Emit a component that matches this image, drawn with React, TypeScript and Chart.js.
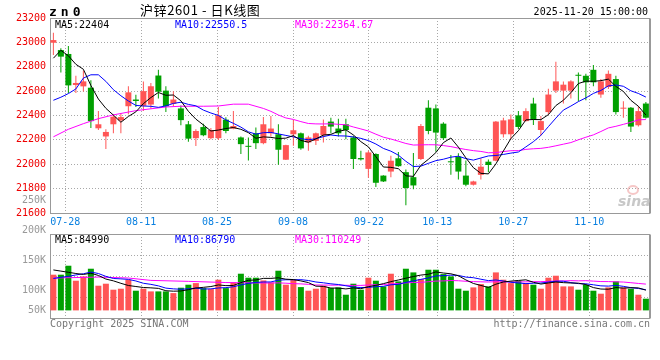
import { useEffect, useRef } from "react";
import { Chart, registerables } from "chart.js";

Chart.register(...registerables);

const MONO = "'DejaVu Sans Mono', monospace";
const RED = "#ff5555";
const GREEN = "#00a000";
const GRID = "#a8a8a8";

const symbol = "zn0";
const title = "沪锌2601 - 日K线图";
const timestamp = "2025-11-20 15:00:00";

const dates = [
  "07-24", "07-25", "07-28", "07-29", "07-30", "07-31",
  "08-01", "08-04", "08-05", "08-06", "08-07", "08-08", "08-11", "08-12", "08-13", "08-14", "08-15",
  "08-18", "08-19", "08-20", "08-21", "08-22", "08-25", "08-26", "08-27", "08-28", "08-29",
  "09-01", "09-02", "09-03", "09-04", "09-05", "09-08", "09-09", "09-10", "09-11", "09-12",
  "09-15", "09-16", "09-17", "09-18", "09-19", "09-22", "09-23", "09-24", "09-25", "09-26", "09-29", "09-30",
  "10-09", "10-10", "10-13", "10-14", "10-15", "10-16", "10-17", "10-20", "10-21", "10-22", "10-23", "10-24",
  "10-27", "10-28", "10-29", "10-30", "10-31",
  "11-03", "11-04", "11-05", "11-06", "11-07", "11-10", "11-11", "11-12", "11-13", "11-14",
  "11-17", "11-18", "11-19", "11-20",
];

const labelDates = ["07-28", "08-11", "08-25", "09-08", "09-22", "10-13", "10-27", "11-10"];

const opens = [
  22997, 22937, 22905, 22650, 22639, 22628, 22295, 22228, 22328, 22360,
  22476, 22531, 22480, 22490, 22728, 22604, 22496, 22458, 22328, 22214,
  22305, 22214, 22214, 22366, 22293, 22220, 22151, 22254, 22173, 22254,
  22246, 22037, 22246, 22254, 22179, 22192, 22238, 22350, 22293, 22328,
  22220, 22051, 21962, 22084, 21907, 21940, 22049, 21935, 21894, 22043,
  22464, 22458, 22333, 22024, 22062, 21907, 21832, 21913, 22021, 22029,
  22246, 22246, 22401, 22354, 22498, 22281, 22428, 22604, 22604, 22604,
  22734, 22726, 22775, 22572, 22634, 22699, 22456, 22464, 22320, 22498,
];
const closes = [
  23019, 22883, 22647, 22667, 22680, 22354, 22328, 22265, 22390, 22387,
  22590, 22519, 22600, 22640, 22595, 22475, 22531, 22362, 22210, 22273,
  22238, 22281, 22401, 22273, 22314, 22165, 22143, 22173, 22328, 22293,
  22119, 22157, 22279, 22130, 22220, 22254, 22314, 22309, 22254, 22281,
  22043, 22040, 22097, 21848, 21859, 22029, 21984, 21805, 21826, 22314,
  22273, 22260, 22214, 22016, 21940, 21832, 21859, 21980, 21994, 22350,
  22360, 22368, 22306, 22436, 22366, 22354, 22572, 22680, 22653, 22680,
  22726, 22672, 22672, 22680, 22742, 22428, 22464, 22309, 22436, 22382,
];
const highs = [
  23078, 22951, 22970, 22726, 22769, 22690, 22436, 22287, 22410, 22417,
  22640, 22570, 22680, 22667, 22775, 22640, 22600, 22482, 22355, 22287,
  22333, 22297, 22470, 22385, 22436, 22228, 22220, 22301, 22387, 22395,
  22328, 22160, 22366, 22260, 22233, 22260, 22368, 22382, 22374, 22374,
  22233, 22110, 22110, 22090, 21910, 22070, 22100, 21956, 22092, 22330,
  22525, 22490, 22345, 22076, 22090, 22030, 21865, 22049, 22040, 22355,
  22382, 22409, 22436, 22460, 22545, 22395, 22620, 22842, 22680, 22690,
  22753, 22742, 22815, 22700, 22769, 22726, 22517, 22470, 22476, 22510,
];
const lows = [
  22897, 22753, 22585, 22585, 22596, 22298, 22281, 22125, 22254, 22254,
  22410, 22470, 22436, 22456, 22540, 22428, 22476, 22320, 22184, 22150,
  22230, 22206, 22200, 22254, 22287, 22084, 22030, 22125, 22165, 22228,
  21995, 22035, 22151, 22120, 22110, 22157, 22179, 22254, 22228, 22206,
  21962, 22030, 21889, 21813, 21855, 21894, 21980, 21663, 21794, 22035,
  22246, 22102, 22200, 21913, 21875, 21820, 21826, 21875, 21935, 22025,
  22220, 22206, 22290, 22350, 22322, 22233, 22410, 22585, 22498, 22540,
  22517, 22525, 22639, 22545, 22618, 22409, 22382, 22265, 22309, 22375,
];
const volumes = [
  150000, 150000, 187700, 124700, 142800, 175100, 103700, 112100, 86900, 91100,
  128900, 82700, 91100, 79800, 79800, 79800, 72700, 95300, 107900, 114700,
  93700, 89500, 128900, 93700, 117600, 154100, 137300, 137300, 126000, 117600,
  166700, 107900, 128900, 97900, 82700, 91100, 103700, 93700, 96600, 65900,
  112100, 86900, 137300, 124700, 100800, 154100, 121800, 175100, 159600, 131500,
  170900, 170900, 152500, 142800, 91100, 82700, 96600, 110500, 100800, 159600,
  128900, 114700, 124700, 114700, 107900, 91100, 137300, 145700, 100800, 100800,
  86900, 107900, 82700, 70100, 96600, 121800, 96600, 91100, 65900, 49100,
];

// moving-average values before a full window is available: [index, value]
const ma5Head = [[0, 22870], [1, 22935], [2, 22890], [3, 22820]];
const ma10Head = [[0, 22525], [1, 22550], [2, 22580], [3, 22618], [4, 22707], [5, 22734], [6, 22734], [7, 22680], [8, 22612]];
const ma30Head = [[0, 22225], [2, 22287], [4, 22333], [6, 22374], [8, 22405], [11, 22440], [13, 22455], [15, 22470], [17, 22476], [20, 22476], [22, 22478], [24, 22493], [26, 22493], [28, 22458]];
const volMa5Head = [[0, 170000], [1, 165000], [2, 160000], [3, 155000]];
const volMa10Head = [[0, 134000], [1, 139000], [2, 143000], [3, 149000], [4, 154000], [5, 161000], [6, 155000], [7, 143000], [8, 134000]];
const volMa30Head = [[0, 136000], [6, 140000], [10, 136000], [13, 126000], [18, 122000], [23, 117000], [28, 115000]];

const priceLegend = ["MA5:22404", "MA10:22550.5", "MA30:22364.67"];
const volLegend = ["MA5:84990", "MA10:86790", "MA30:110249"];
const legendColors = ["#000000", "#0000ff", "#ff00ff"];
const volAxisLabels = ["250K", "200K", "150K", "100K", "50K"];

const priceMin = 21600;
const priceMax = 23200;
const priceStep = 200;
const volMin = -32000;
const volMax = 321000;

function movingAverage(values: number[], n: number, head: number[][]) {
  const pts = head.map(([x, y]) => ({ x, y }));
  for (let i = n - 1; i < values.length; i++) {
    let s = 0;
    for (let j = i - n + 1; j <= i; j++) s += values[j];
    pts.push({ x: i, y: s / n });
  }
  return pts;
}

const candleColor = (i: number) => (closes[i] >= opens[i] ? RED : GREEN);
const labelIdx = labelDates.map((d) => dates.indexOf(d));

const candleAxis = {
  type: "linear",
  display: false,
  offset: false,
  grid: { offset: false },
  min: -0.45,
  max: dates.length - 0.45,
};

function dateAxis(showLabels: boolean) {
  return {
    type: "linear",
    position: "bottom",
    offset: false,
    min: 0,
    max: dates.length - 1,
    afterBuildTicks: (s: any) => {
      s.ticks = labelIdx.map((v) => ({ value: v }));
    },
    afterFit: (s: any) => {
      s.height = showLabels ? 16 : 0;
    },
    grid: { color: GRID, drawTicks: false, offset: false },
    border: { display: false, dash: [1, 2] },
    ticks: {
      display: showLabels,
      color: "#0a80e0",
      font: { family: MONO, size: 10 },
      padding: 3,
      maxRotation: 0,
      autoSkip: false,
      callback: (v: any) => dates[v] ?? "",
    },
  };
}

const framePlugin = {
  id: "frame",
  beforeDatasetsDraw(chart: any) {
    const { ctx, chartArea: a } = chart;
    ctx.save();
    ctx.strokeStyle = "#999999";
    ctx.lineWidth = 1;
    const l = Math.round(a.left) + 0.5;
    const t = Math.round(a.top) + 0.5;
    const r = Math.round(a.right) - 0.5;
    const b = Math.round(a.bottom) + 0.5;
    ctx.strokeRect(l, t, r - l, b - t);
    ctx.beginPath();
    ctx.moveTo(r + 1, t);
    ctx.lineTo(r + 1, b);
    ctx.stroke();
    ctx.restore();
  },
};

const mainTextPlugin = {
  id: "mainText",
  afterDraw(chart: any) {
    const { ctx, chartArea: a } = chart;
    ctx.save();
    ctx.textBaseline = "alphabetic";
    ctx.fillStyle = "#000";
    ctx.font = `bold 13px ${MONO}`;
    ctx.letterSpacing = "4px";
    ctx.fillText(symbol, a.left - 1, 16);
    ctx.letterSpacing = "0.6px";
    ctx.font = "13px 'Noto Sans CJK SC', sans-serif";
    ctx.fillText(title, 140, 15);
    ctx.letterSpacing = "0px";
    ctx.font = `10px ${MONO}`;
    ctx.textAlign = "right";
    ctx.fillText(timestamp, a.right - 2, 15);
    ctx.textAlign = "left";
    priceLegend.forEach((t, k) => {
      ctx.fillStyle = legendColors[k];
      ctx.fillText(t, a.left + 5 + 120 * k, a.top + 9.5);
    });
    // sina watermark
    ctx.strokeStyle = "rgba(235,130,130,0.45)";
    ctx.lineWidth = 2;
    ctx.beginPath();
    ctx.ellipse(a.right - 17, a.bottom - 23, 5, 4, 0, 0, Math.PI * 2);
    ctx.stroke();
    ctx.fillStyle = "#c8c8c8";
    ctx.font = "italic bold 14px 'DejaVu Sans', sans-serif";
    ctx.fillText("sina", a.right - 32, a.bottom - 7);
    ctx.restore();
  },
};

const volTextPlugin = {
  id: "volText",
  afterDraw(chart: any) {
    const { ctx, chartArea: a } = chart;
    ctx.save();
    ctx.font = `10px ${MONO}`;
    ctx.textBaseline = "alphabetic";
    volLegend.forEach((t, k) => {
      ctx.fillStyle = legendColors[k];
      ctx.fillText(t, a.left + 5 + 120 * k, a.top + 8.5);
    });
    ctx.fillStyle = "#999999";
    ctx.textAlign = "right";
    ctx.textBaseline = "middle";
    volAxisLabels.forEach((t, k) => {
      const y = k < volAxisLabels.length - 1 ? a.top - 33.5 + 30 * k : a.bottom - 8;
      ctx.fillText(t, a.left - 4, y);
    });
    ctx.textBaseline = "alphabetic";
    ctx.fillStyle = "#777777";
    ctx.textAlign = "left";
    ctx.fillText("Copyright 2025 SINA.COM", a.left, a.bottom + 8.5);
    ctx.textAlign = "right";
    ctx.fillText("http://finance.sina.com.cn", a.right, a.bottom + 8.5);
    ctx.restore();
  },
};

function lineSet(label: string, data: any[], color: string) {
  return {
    type: "line",
    label,
    data,
    borderColor: color,
    borderWidth: 1,
    pointRadius: 0,
    tension: 0,
    fill: false,
    xAxisID: "xc",
    yAxisID: "y",
    order: 1,
  };
}

function mainConfig(): any {
  return {
    type: "bar",
    data: {
      datasets: [
        lineSet("MA5", movingAverage(closes, 5, ma5Head), legendColors[0]),
        lineSet("MA10", movingAverage(closes, 10, ma10Head), legendColors[1]),
        lineSet("MA30", movingAverage(closes, 30, ma30Head), legendColors[2]),
        {
          type: "bar",
          label: "body",
          data: dates.map((_, i) => ({ x: i, y: [opens[i], closes[i]] })),
          backgroundColor: (c: any) => candleColor(c.dataIndex),
          barThickness: 6,
          minBarLength: 1,
          grouped: false,
          inflateAmount: 0,
          borderWidth: 0,
          xAxisID: "xc",
          yAxisID: "y",
          order: 2,
        },
        {
          type: "bar",
          label: "wick",
          data: dates.map((_, i) => ({ x: i, y: [lows[i], highs[i]] })),
          backgroundColor: (c: any) => candleColor(c.dataIndex),
          barThickness: 1,
          minBarLength: 1,
          grouped: false,
          inflateAmount: 0,
          borderWidth: 0,
          xAxisID: "xc",
          yAxisID: "y",
          order: 3,
        },
      ],
    },
    options: {
      animation: false,
      responsive: false,
      devicePixelRatio: 1,
      events: [],
      layout: { padding: { top: 18, right: 10, bottom: 131, left: 0 } },
      plugins: { legend: { display: false }, tooltip: { enabled: false } },
      scales: {
        xc: candleAxis,
        x: dateAxis(true),
        y: {
          type: "linear",
          position: "left",
          min: priceMin,
          max: priceMax,
          afterFit: (s: any) => {
            s.width = 50;
          },
          grid: { color: GRID, drawTicks: false },
          border: { display: false, dash: [1, 2] },
          ticks: {
            stepSize: priceStep,
            color: "#ee0000",
            font: { family: MONO, size: 10 },
            padding: 4,
            callback: (v: any) => String(v),
          },
        },
      },
    },
    plugins: [framePlugin, mainTextPlugin],
  };
}

function volConfig(): any {
  return {
    type: "bar",
    data: {
      datasets: [
        lineSet("VMA5", movingAverage(volumes, 5, volMa5Head), legendColors[0]),
        lineSet("VMA10", movingAverage(volumes, 10, volMa10Head), legendColors[1]),
        lineSet("VMA30", movingAverage(volumes, 30, volMa30Head), legendColors[2]),
        {
          type: "bar",
          label: "volume",
          data: dates.map((_, i) => ({ x: i, y: volumes[i] })),
          backgroundColor: (c: any) => candleColor(c.dataIndex),
          barThickness: 6,
          grouped: false,
          inflateAmount: 0,
          borderWidth: 0,
          xAxisID: "xc",
          yAxisID: "y",
          order: 2,
        },
      ],
    },
    options: {
      animation: false,
      responsive: false,
      devicePixelRatio: 1,
      events: [],
      layout: { padding: { top: 234, right: 10, bottom: 42, left: 0 } },
      plugins: { legend: { display: false }, tooltip: { enabled: false } },
      scales: {
        xc: candleAxis,
        x: dateAxis(false),
        y: {
          type: "linear",
          position: "left",
          min: volMin,
          max: volMax,
          afterBuildTicks: (s: any) => {
            s.ticks = [0, 1, 2, 3, 4].map((k) => ({ value: volMin + (k * (volMax - volMin)) / 4 }));
          },
          afterFit: (s: any) => {
            s.width = 50;
          },
          grid: { color: GRID, drawTicks: false },
          border: { display: false, dash: [1, 2] },
          ticks: { display: false },
        },
      },
    },
    plugins: [framePlugin, volTextPlugin],
  };
}

export default function App() {
  const mainRef = useRef<HTMLCanvasElement>(null);
  const volRef = useRef<HTMLCanvasElement>(null);

  useEffect(() => {
    const main = new Chart(mainRef.current as HTMLCanvasElement, mainConfig());
    const vol = new Chart(volRef.current as HTMLCanvasElement, volConfig());
    return () => {
      main.destroy();
      vol.destroy();
    };
  }, []);

  return (
    <div style={{ position: "absolute", left: 0, top: 0, width: 660, height: 360, background: "#fff" }}>
      <canvas ref={mainRef} width={660} height={360} style={{ position: "absolute", left: 0, top: 0 }} />
      <canvas ref={volRef} width={660} height={360} style={{ position: "absolute", left: 0, top: 0 }} />
    </div>
  );
}
